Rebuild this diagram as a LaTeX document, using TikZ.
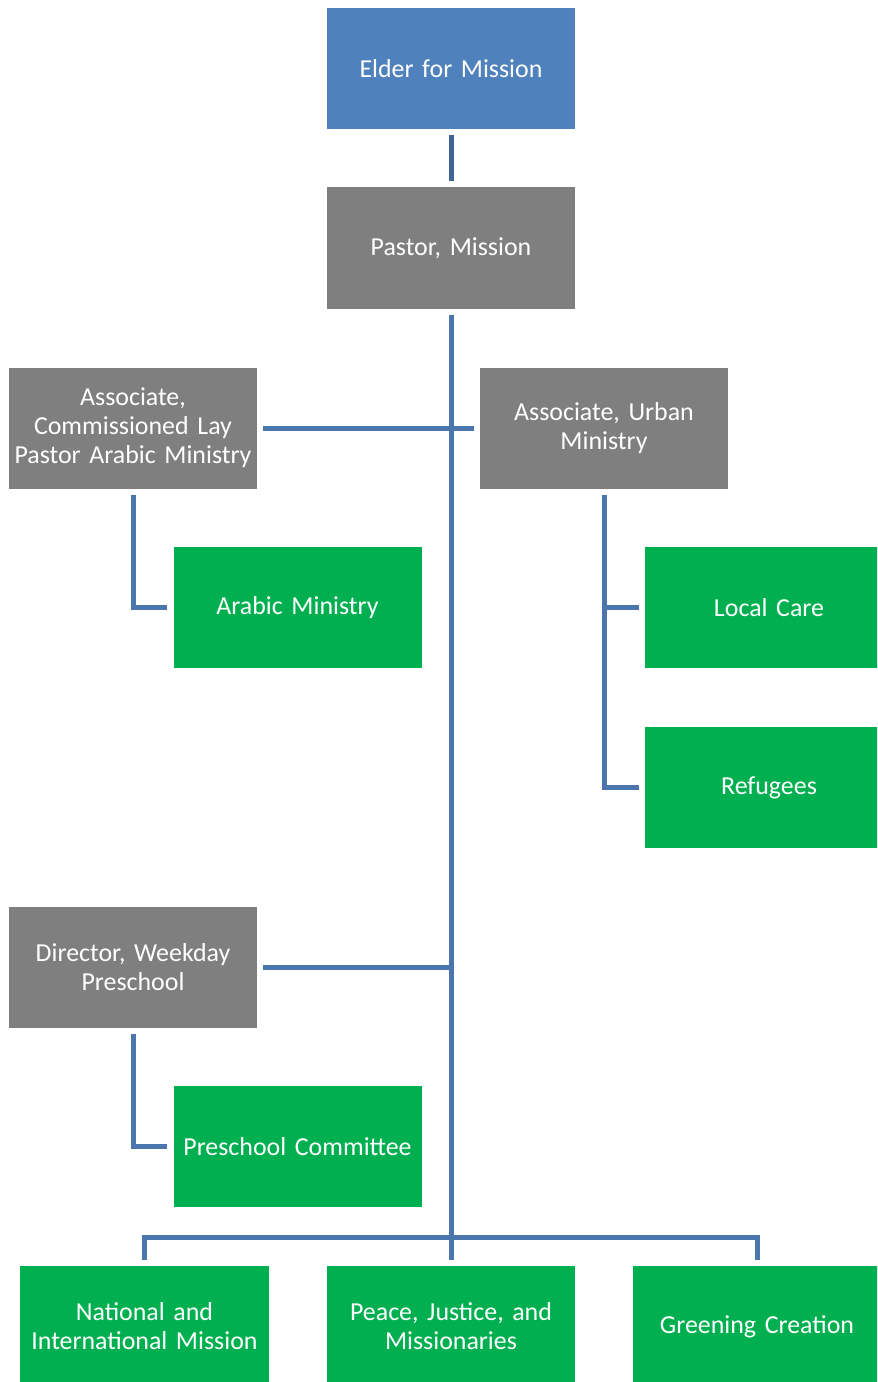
\documentclass[tikz,border=0pt]{standalone}
\usepackage{fontspec}
\setmainfont{Carlito}
\usetikzlibrary{calc}
\definecolor{boxblue}{HTML}{4F81BD}
\definecolor{boxgray}{HTML}{7F7F7F}
\definecolor{boxgreen}{HTML}{00B050}
\definecolor{connblue}{HTML}{4A75AD}
\definecolor{conndark}{HTML}{3F6595}
\begin{document}
\begin{tikzpicture}[x=1bp,y=-1bp,
  box/.style={rectangle, minimum width=248bp, minimum height=121bp, inner sep=0pt,
    text=white, align=center, font=\fontsize{26}{29}\selectfont, text width=240bp},
  topbox/.style={box, fill=boxblue},
  midbox/.style={box, fill=boxgray},
  leafbox/.style={box, fill=boxgreen},
  conn/.style={draw=connblue, line width=5bp, shorten <=6bp, shorten >=6bp},
  conntop/.style={conn, draw=conndark}]
\useasboundingbox (0,0) rectangle (877,1382);
\clip (0,0) rectangle (877,1382);
\node[topbox] (elder) at (451,68.5) {Elder for Mission};
\node[midbox] (pastor) at (451,248) {Pastor, Mission};
\node[midbox] (assoc) at (133,428) {Associate,\\Commissioned Lay\\Pastor Arabic Ministry};
\node[midbox] (urban) at (604,428) {Associate, Urban\\Ministry};
\node[leafbox] (arabic) at (297.5,607.5) {Arabic Ministry};
\node[leafbox] (local) at (769,607.5) {Local Care};
\node[leafbox] (refugees) at (769,787.5) {Refugees};
\node[midbox] (director) at (133,967) {Director, Weekday\\Preschool};
\node[leafbox] (precomm) at (297.5,1146.5) {Preschool Committee};
\node[leafbox] (national) at (144.5,1326.5) {National and\\International Mission};
\node[leafbox] (peace) at (451,1326.5) {Peace, Justice, and\\Missionaries};
\node[leafbox] (greening) at (757,1326.5) {Greening Creation};
\coordinate (bus) at ($(peace.north)+(0,-28)$);
\draw[conntop] (elder) -- (pastor);
\draw[conn] (pastor.south) -- (peace.north);
\draw[conn] (assoc.east) -- (urban.west);
\draw[conn] (assoc.south) |- (arabic.west);
\draw[conn] (urban.south) |- (local.west);
\draw[conn] (urban.south) |- (refugees.west);
\draw[conn, shorten >=0pt] (director.east) -- (pastor.south |- director.east);
\draw[conn] (director.south) |- (precomm.west);
\draw[conn] (national.north) |- (bus) -| (greening.north);
\end{tikzpicture}
\end{document}
